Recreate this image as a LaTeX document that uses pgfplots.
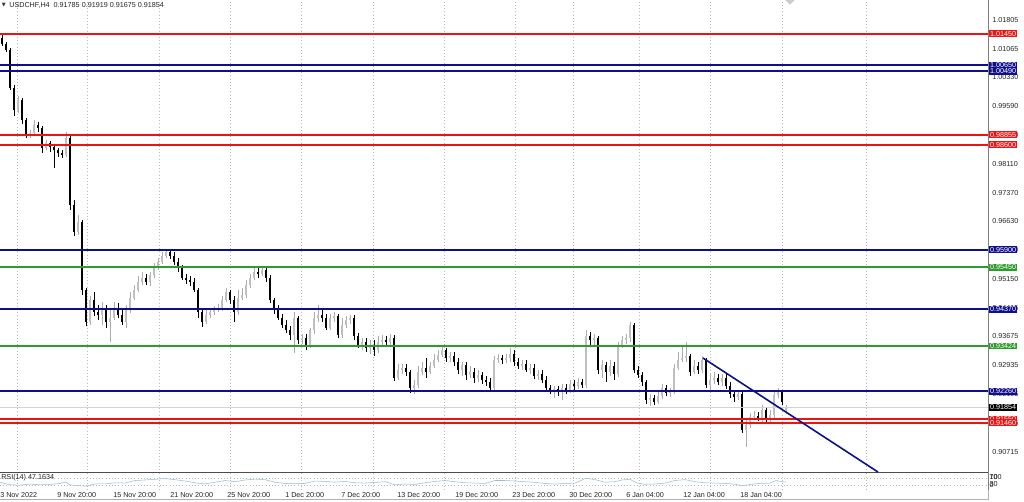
\documentclass[border=0pt]{standalone}
\usepackage{pgfplots}
\pgfplotsset{compat=1.18}
\usepackage{pgfplotstable}
\usepackage{fontspec}
\setmainfont{Liberation Sans}
\newfontfamily\dejavu{DejaVu Sans}
\newcommand\tkf{\fontsize{5.4}{6}\selectfont}
\definecolor{lvred}{RGB}{235,20,20}
\definecolor{lvblue}{RGB}{15,15,140}
\definecolor{lvgreen}{RGB}{45,155,45}
\definecolor{rsiline}{RGB}{150,190,205}

\pgfplotstableread{
x o h l c
18 0.9949 0.9985 0.9941 0.9975
30 0.9885 0.9898 0.9877 0.9890
34 0.9890 0.9924 0.9882 0.9911
46 0.9852 0.9872 0.9846 0.9864
66 0.9834 0.9893 0.9828 0.9877
78 0.9636 0.9679 0.9628 0.9661
90 0.9404 0.9471 0.9397 0.9461
102 0.9422 0.9456 0.9397 0.9435
110 0.9404 0.9435 0.9353 0.9415
114 0.9415 0.9456 0.9410 0.9440
126 0.9404 0.9448 0.9389 0.9435
130 0.9435 0.9481 0.9428 0.9466
134 0.9466 0.9499 0.9461 0.9487
138 0.9487 0.9523 0.9481 0.9507
142 0.9507 0.9533 0.9499 0.9517
150 0.9507 0.9533 0.9497 0.9525
154 0.9525 0.9556 0.9517 0.9543
158 0.9543 0.9569 0.9538 0.9559
162 0.9559 0.9584 0.9553 0.9574
166 0.9574 0.9592 0.9569 0.9584
206 0.9404 0.9435 0.9399 0.9422
210 0.9422 0.9440 0.9415 0.9430
214 0.9430 0.9445 0.9422 0.9435
218 0.9435 0.9451 0.9430 0.9440
222 0.9440 0.9471 0.9433 0.9461
226 0.9461 0.9492 0.9456 0.9481
238 0.9430 0.9487 0.9422 0.9466
242 0.9466 0.9492 0.9461 0.9474
246 0.9474 0.9512 0.9466 0.9499
250 0.9499 0.9528 0.9492 0.9517
254 0.9517 0.9543 0.9512 0.9533
262 0.9528 0.9546 0.9523 0.9538
294 0.9371 0.9430 0.9325 0.9415
302 0.9358 0.9374 0.9348 0.9363
310 0.9345 0.9389 0.9338 0.9384
314 0.9384 0.9430 0.9374 0.9415
318 0.9415 0.9448 0.9404 0.9422
330 0.9389 0.9425 0.9384 0.9415
334 0.9415 0.9430 0.9404 0.9420
342 0.9371 0.9415 0.9363 0.9397
346 0.9397 0.9420 0.9389 0.9410
350 0.9410 0.9422 0.9399 0.9415
362 0.9345 0.9363 0.9332 0.9353
370 0.9338 0.9358 0.9322 0.9345
378 0.9332 0.9368 0.9325 0.9353
382 0.9353 0.9371 0.9343 0.9358
390 0.9353 0.9374 0.9345 0.9363
398 0.9260 0.9296 0.9255 0.9281
402 0.9281 0.9296 0.9271 0.9286
414 0.9235 0.9255 0.9219 0.9242
418 0.9242 0.9291 0.9235 0.9276
422 0.9276 0.9302 0.9268 0.9286
430 0.9276 0.9302 0.9271 0.9291
434 0.9291 0.9322 0.9286 0.9307
438 0.9307 0.9332 0.9302 0.9320
442 0.9320 0.9340 0.9314 0.9332
450 0.9312 0.9327 0.9302 0.9317
462 0.9281 0.9302 0.9266 0.9294
470 0.9268 0.9291 0.9260 0.9276
478 0.9260 0.9281 0.9250 0.9268
494 0.9235 0.9317 0.9227 0.9307
498 0.9307 0.9322 0.9299 0.9312
506 0.9307 0.9322 0.9299 0.9312
510 0.9312 0.9338 0.9302 0.9322
522 0.9291 0.9307 0.9281 0.9296
530 0.9281 0.9296 0.9271 0.9286
538 0.9266 0.9281 0.9255 0.9271
554 0.9230 0.9240 0.9209 0.9232
562 0.9227 0.9245 0.9204 0.9235
570 0.9230 0.9255 0.9222 0.9245
578 0.9240 0.9260 0.9232 0.9250
586 0.9242 0.9384 0.9235 0.9368
594 0.9358 0.9374 0.9343 0.9363
602 0.9281 0.9307 0.9260 0.9294
610 0.9276 0.9307 0.9266 0.9291
618 0.9271 0.9353 0.9263 0.9345
622 0.9345 0.9368 0.9338 0.9358
626 0.9358 0.9374 0.9348 0.9363
630 0.9363 0.9404 0.9353 0.9397
650 0.9204 0.9219 0.9188 0.9209
658 0.9199 0.9224 0.9194 0.9214
662 0.9214 0.9245 0.9206 0.9235
670 0.9222 0.9235 0.9212 0.9224
674 0.9224 0.9296 0.9219 0.9286
678 0.9286 0.9327 0.9281 0.9307
682 0.9307 0.9345 0.9302 0.9312
686 0.9312 0.9353 0.9302 0.9317
694 0.9276 0.9307 0.9271 0.9291
702 0.9281 0.9317 0.9273 0.9307
710 0.9242 0.9271 0.9230 0.9255
714 0.9255 0.9276 0.9245 0.9260
722 0.9250 0.9271 0.9240 0.9260
738 0.9212 0.9230 0.9204 0.9219
746 0.9127 0.9153 0.9083 0.9140
750 0.9140 0.9170 0.9132 0.9160
754 0.9160 0.9176 0.9153 0.9163
762 0.9158 0.9191 0.9147 0.9178
770 0.9158 0.9178 0.9142 0.9165
774 0.9165 0.9224 0.9158 0.9217
778 0.9217 0.9235 0.9209 0.9224
786 0.91785 0.91919 0.91675 0.91854
}\bull

\pgfplotstableread{
x o h l c
2 1.0134 1.0145 1.0114 1.0119
6 1.0119 1.0124 1.0098 1.0103
10 1.0103 1.0109 1.0001 1.0006
14 1.0006 1.0013 0.9934 0.9949
22 0.9975 0.9980 0.9913 0.9924
26 0.9924 0.9929 0.9877 0.9885
38 0.9911 0.9918 0.9893 0.9903
42 0.9903 0.9908 0.9839 0.9852
50 0.9864 0.9870 0.9841 0.9854
54 0.9854 0.9862 0.9800 0.9846
58 0.9846 0.9852 0.9828 0.9839
62 0.9839 0.9846 0.9826 0.9834
70 0.9877 0.9882 0.9692 0.9705
74 0.9705 0.9718 0.9625 0.9636
82 0.9661 0.9667 0.9474 0.9487
86 0.9487 0.9492 0.9394 0.9404
94 0.9461 0.9481 0.9420 0.9430
98 0.9430 0.9448 0.9410 0.9422
106 0.9435 0.9448 0.9389 0.9404
118 0.9440 0.9453 0.9415 0.9422
122 0.9422 0.9435 0.9397 0.9404
146 0.9517 0.9528 0.9499 0.9507
170 0.9584 0.9592 0.9566 0.9574
174 0.9574 0.9584 0.9551 0.9559
178 0.9559 0.9569 0.9533 0.9543
182 0.9543 0.9551 0.9512 0.9517
186 0.9517 0.9528 0.9502 0.9512
190 0.9512 0.9523 0.9497 0.9507
194 0.9507 0.9517 0.9481 0.9487
198 0.9487 0.9492 0.9415 0.9430
202 0.9430 0.9440 0.9392 0.9404
230 0.9481 0.9487 0.9451 0.9461
234 0.9461 0.9471 0.9404 0.9430
258 0.9533 0.9546 0.9517 0.9528
266 0.9538 0.9543 0.9507 0.9517
270 0.9517 0.9525 0.9453 0.9461
274 0.9461 0.9466 0.9425 0.9435
278 0.9435 0.9448 0.9410 0.9415
282 0.9415 0.9425 0.9389 0.9397
286 0.9397 0.9410 0.9376 0.9384
290 0.9384 0.9394 0.9358 0.9371
298 0.9415 0.9420 0.9348 0.9358
306 0.9363 0.9374 0.9332 0.9345
322 0.9422 0.9435 0.9404 0.9415
326 0.9415 0.9425 0.9384 0.9389
338 0.9420 0.9425 0.9363 0.9371
354 0.9415 0.9422 0.9358 0.9368
358 0.9368 0.9376 0.9338 0.9345
366 0.9353 0.9363 0.9327 0.9338
374 0.9345 0.9358 0.9317 0.9332
386 0.9358 0.9368 0.9343 0.9353
394 0.9363 0.9371 0.9253 0.9260
406 0.9286 0.9296 0.9266 0.9276
410 0.9276 0.9281 0.9222 0.9235
426 0.9286 0.9312 0.9260 0.9276
446 0.9332 0.9338 0.9302 0.9312
454 0.9317 0.9327 0.9291 0.9302
458 0.9302 0.9312 0.9271 0.9281
466 0.9294 0.9302 0.9255 0.9268
474 0.9276 0.9286 0.9248 0.9260
482 0.9268 0.9276 0.9245 0.9255
486 0.9255 0.9266 0.9240 0.9250
490 0.9250 0.9260 0.9224 0.9235
502 0.9312 0.9320 0.9296 0.9307
514 0.9322 0.9332 0.9291 0.9302
518 0.9302 0.9312 0.9284 0.9291
526 0.9296 0.9307 0.9276 0.9281
534 0.9286 0.9296 0.9258 0.9266
542 0.9271 0.9281 0.9248 0.9255
546 0.9255 0.9266 0.9227 0.9235
550 0.9235 0.9242 0.9219 0.9230
558 0.9232 0.9240 0.9214 0.9227
566 0.9235 0.9245 0.9219 0.9230
574 0.9245 0.9255 0.9230 0.9240
582 0.9250 0.9258 0.9235 0.9242
590 0.9368 0.9379 0.9345 0.9358
598 0.9363 0.9368 0.9271 0.9281
606 0.9294 0.9302 0.9250 0.9276
614 0.9291 0.9302 0.9255 0.9271
634 0.9397 0.9402 0.9273 0.9281
638 0.9281 0.9291 0.9260 0.9268
642 0.9268 0.9276 0.9240 0.9250
646 0.9250 0.9255 0.9194 0.9204
654 0.9209 0.9217 0.9191 0.9199
666 0.9235 0.9242 0.9214 0.9222
690 0.9317 0.9322 0.9266 0.9276
698 0.9291 0.9302 0.9271 0.9281
706 0.9307 0.9312 0.9235 0.9242
718 0.9260 0.9271 0.9242 0.9250
726 0.9260 0.9271 0.9232 0.9240
730 0.9240 0.9250 0.9209 0.9219
734 0.9219 0.9230 0.9199 0.9212
742 0.9219 0.9224 0.9119 0.9127
758 0.9163 0.9173 0.9150 0.9158
766 0.9178 0.9183 0.9147 0.9158
782 0.9224 0.9230 0.9191 0.9199
}\bear

\begin{document}
\begin{tikzpicture}[
  lab/.style={anchor=west, font=\tkf, text=white, inner xsep=0.9pt, inner ysep=0.6pt, xshift=0.4pt},
  dl/.style={anchor=north west, font=\tkf, inner sep=0pt, yshift=-1.6pt, text=black!85},
  rl/.style={anchor=west, font=\tkf, inner sep=0pt, xshift=1pt, text=black!85},
]
\path[use as bounding box] (0,0) rectangle (768pt,375.75pt);
\fill[white] (0,0) rectangle (768pt,375.75pt);
\begin{axis}[
  at={(0pt,21.2pt)}, anchor=south west,
  scale only axis, width=741pt, height=354.55pt,
  xmin=0, xmax=988, ymin=0.90171, ymax=1.02319,
  axis x line*=bottom, axis y line*=right,
  x axis line style={draw=black!70, line width=1pt},
  y axis line style={draw=gray, line width=0.5pt},
  xtick={17,87,159,230,301,373,444,515,573,639,710,782,866},
  xticklabels={},
  xmajorgrids, grid style={gray!55, dotted, line width=0.4pt},
  major tick length=0pt,
  ytick={1.01805,1.01065,1.00330,0.99590,0.98850,0.98110,0.97370,0.96630,0.95890,0.95150,0.94415,0.93675,0.92935,0.92195,0.91455,0.90715},
  yticklabels={1.01805,1.01065,1.00330,0.99590,0.98850,0.98110,0.97370,0.96630,0.95890,0.95150,0.94415,0.93675,0.92935,0.92195,0.91455,0.90715},
  yticklabel style={font=\tkf, text=black!85, anchor=west, inner sep=0pt, xshift=3pt},
  clip mode=individual,
]
% candles: wicks then bodies
\addplot[draw=none, mark=none, forget plot, error bars/.cd, y dir=plus, y explicit, error mark=none,
  error bar style={draw=gray!65, line width=0.45pt}]
  table[x=x, y=l, y error plus expr={\thisrow{h}-\thisrow{l}}] {\bull};
\addplot[draw=none, mark=none, forget plot, error bars/.cd, y dir=plus, y explicit, error mark=none,
  error bar style={draw=black, line width=0.45pt}]
  table[x=x, y=l, y error plus expr={\thisrow{h}-\thisrow{l}}] {\bear};
\addplot[draw=none, mark=none, forget plot, error bars/.cd, y dir=plus, y explicit, error mark=none,
  error bar style={draw=gray!50, line width=1.8pt}]
  table[x=x, y=o, y error plus expr={\thisrow{c}-\thisrow{o}}] {\bull};
\addplot[draw=none, mark=none, forget plot, error bars/.cd, y dir=plus, y explicit, error mark=none,
  error bar style={draw=black, line width=1.8pt}]
  table[x=x, y=c, y error plus expr={\thisrow{o}-\thisrow{c}}] {\bear};
% current price line
\addplot[gray!35, line width=0.5pt] coordinates {(0,0.91854) (988,0.91854)};
% levels
\addplot[lvred, line width=1.5pt] coordinates {(0,1.01450) (988,1.01450)};
\addplot[lvblue, line width=1.5pt] coordinates {(0,1.00650) (988,1.00650)};
\addplot[lvblue, line width=1.5pt] coordinates {(0,1.00490) (988,1.00490)};
\addplot[lvred, line width=1.5pt] coordinates {(0,0.98855) (988,0.98855)};
\addplot[lvred, line width=1.5pt] coordinates {(0,0.98600) (988,0.98600)};
\addplot[lvblue, line width=1.5pt] coordinates {(0,0.95900) (988,0.95900)};
\addplot[lvgreen, line width=1.5pt] coordinates {(0,0.95450) (988,0.95450)};
\addplot[lvblue, line width=1.5pt] coordinates {(0,0.94370) (988,0.94370)};
\addplot[lvgreen, line width=1.5pt] coordinates {(0,0.93424) (988,0.93424)};
\addplot[lvblue, line width=1.5pt] coordinates {(0,0.92260) (988,0.92260)};
\addplot[lvred, line width=1.5pt] coordinates {(0,0.91550) (988,0.91550)};
\addplot[lvred, line width=1.5pt] coordinates {(0,0.91460) (988,0.91460)};
% trend line
\addplot[lvblue, line width=1.2pt] coordinates {(703,0.93119) (878,0.90189)};
% level labels
\node[lab, fill=lvred] at (axis cs:988,1.01450) {1.01450};
\node[lab, fill=lvblue] at (axis cs:988,1.00650) {1.00650};
\node[lab, fill=lvblue] at (axis cs:988,1.00490) {1.00490};
\node[lab, fill=lvred] at (axis cs:988,0.98855) {0.98855};
\node[lab, fill=lvred] at (axis cs:988,0.98600) {0.98600};
\node[lab, fill=lvblue] at (axis cs:988,0.95900) {0.95900};
\node[lab, fill=lvgreen] at (axis cs:988,0.95450) {0.95450};
\node[lab, fill=lvblue] at (axis cs:988,0.94370) {0.94370};
\node[lab, fill=lvgreen] at (axis cs:988,0.93424) {0.93424};
\node[lab, fill=lvblue] at (axis cs:988,0.92260) {0.92260};
\node[lab, fill=black] at (axis cs:988,0.91854) {0.91854};
\node[lab, fill=lvred] at (axis cs:988,0.91550) {0.91550};
\node[lab, fill=lvred] at (axis cs:988,0.91460) {0.91460};
\end{axis}

\begin{axis}[
  at={(0pt,8.25pt)}, anchor=south west,
  scale only axis, width=741pt, height=12.95pt,
  xmin=0, xmax=988, ymin=0, ymax=100,
  axis x line*=bottom, axis y line*=right,
  x axis line style={draw=none},
  y axis line style={draw=gray, line width=0.5pt},
  xtick={17,87,159,230,301,373,444,515,573,639,710,782,866},
  xticklabels={},
  ytick={30,70}, yticklabels={},
  xmajorgrids, ymajorgrids, grid style={gray!55, dotted, line width=0.4pt},
  major tick length=0pt,
  clip mode=individual,
]
\addplot[rsiline, line width=0.4pt] coordinates {
(0,45) (10,30) (20,28) (30,35) (40,30) (50,32) (60,38) (66,45) (70,30) (80,25) (86,22)
(95,35) (105,35) (115,42) (125,40) (135,55) (145,58) (155,62) (165,66) (175,60) (185,52)
(195,42) (205,35) (215,45) (225,55) (235,48) (245,58) (255,63) (265,60) (275,45) (285,38)
(295,36) (305,38) (315,52) (325,50) (335,45) (345,50) (355,42) (365,40) (375,44) (385,48)
(395,30) (405,35) (415,32) (425,42) (435,50) (445,55) (455,48) (465,42) (475,40) (485,38)
(495,55) (505,55) (515,52) (525,48) (535,44) (545,38) (555,34) (565,38) (575,40) (586,68)
(595,60) (605,45) (615,48) (622,58) (630,62) (636,42) (645,33) (655,35) (665,40) (675,55)
(685,60) (695,48) (705,42) (715,40) (725,38) (735,34) (742,24) (750,32) (760,38) (770,40)
(776,55) (782,48) (786,47.16)};
\node[anchor=west, font=\tkf, inner sep=0pt, text=black!85] at (axis cs:1,74) {RSI(14) 47.1634};
\node[rl] at (axis cs:988,78) {100};
\node[rl] at (axis cs:988,76) {70};
\node[rl] at (axis cs:988,33) {30};
\node[rl] at (axis cs:988,31) {0};
\node[dl] at (axis cs:0,0) {3 Nov 2022};
\node[dl] at (axis cs:57,0) {9 Nov 20:00};
\node[dl] at (axis cs:113,0) {15 Nov 20:00};
\node[dl] at (axis cs:170,0) {21 Nov 20:00};
\node[dl] at (axis cs:227,0) {25 Nov 20:00};
\node[dl] at (axis cs:285,0) {1 Dec 20:00};
\node[dl] at (axis cs:341,0) {7 Dec 20:00};
\node[dl] at (axis cs:397,0) {13 Dec 20:00};
\node[dl] at (axis cs:455,0) {19 Dec 20:00};
\node[dl] at (axis cs:512,0) {23 Dec 20:00};
\node[dl] at (axis cs:569,0) {30 Dec 20:00};
\node[dl] at (axis cs:626,0) {6 Jan 04:00};
\node[dl] at (axis cs:683,0) {12 Jan 04:00};
\node[dl] at (axis cs:740,0) {18 Jan 04:00};
\end{axis}
% frame bottom and right extension
\draw[gray!60, line width=0.5pt] (0,1.5pt) -- (741pt,1.5pt) -- (741pt,8.25pt);
% title
\node[anchor=west, inner sep=0pt, font=\dejavu\fontsize{3.8}{4}\selectfont, text=black!80] at (1.2pt,371.8pt) {▼};
\node[anchor=west, inner sep=0pt, font=\tkf, text=black!85] at (6.8pt,371.8pt) {USDCHF,H4\ \ 0.91785 0.91919 0.91675 0.91854};
% chart shift marker
\fill[gray!40] (589pt,375.75pt) -- (596pt,375.75pt) -- (592.5pt,372.2pt) -- cycle;
\end{tikzpicture}
\end{document}
